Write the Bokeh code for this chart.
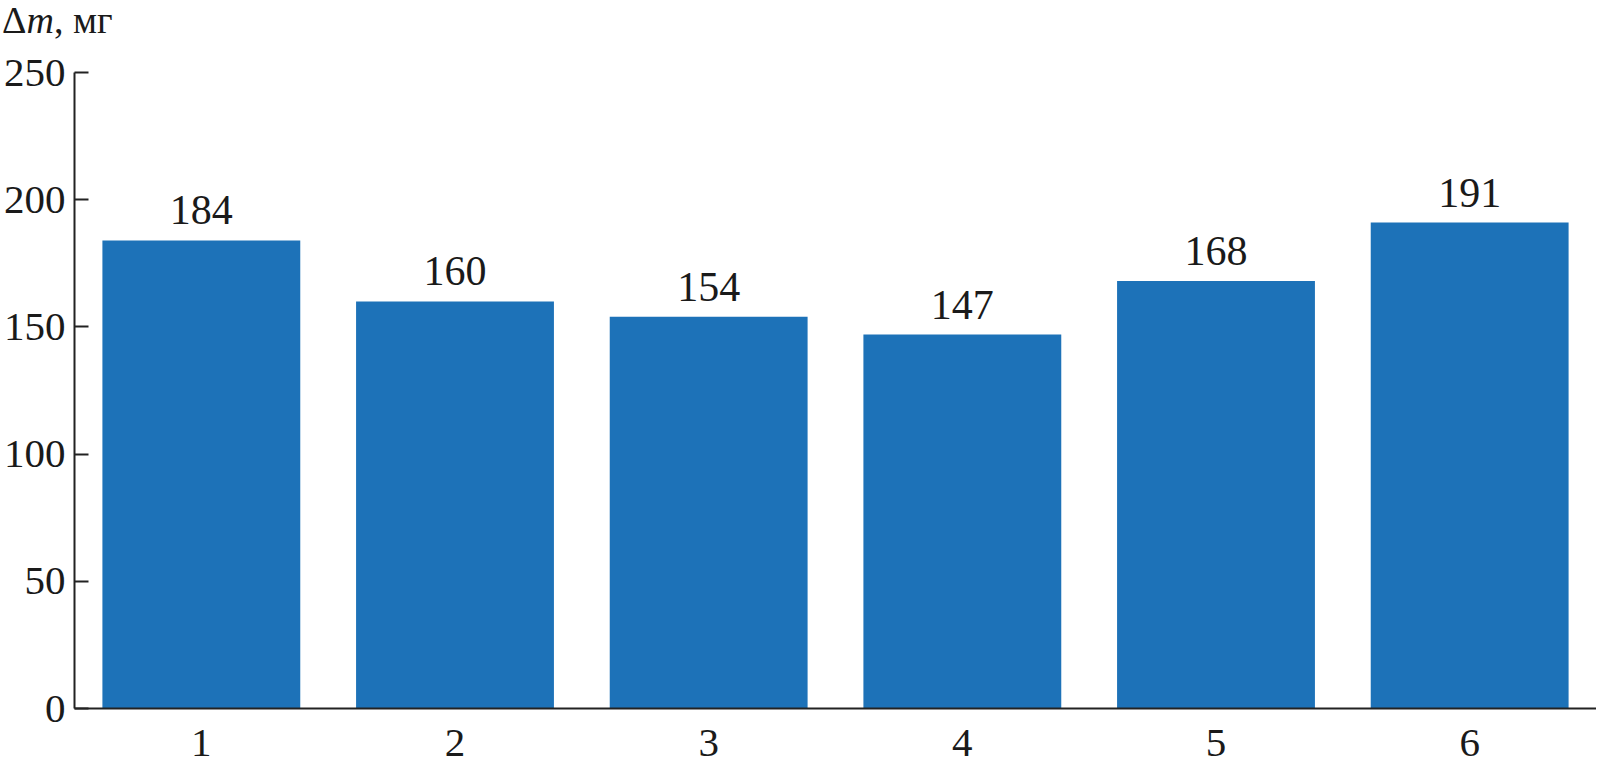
from bokeh.plotting import figure
from bokeh.layouts import column
from bokeh.models import ColumnDataSource, FixedTicker, Range1d, LabelSet, Div
from bokeh.embed import file_html
from bokeh.resources import INLINE

categories = [1, 2, 3, 4, 5, 6]
values = [184, 160, 154, 147, 168, 191]
y_ticks = [0, 50, 100, 150, 200, 250]
y_title_symbol = "Δ"
y_title_var = "m"
y_title_unit = ", мг"

FONT = "Liberation Serif"
BAR = "#1d72b8"
INK = "#1a1a1a"

# --- header carrying the y-axis title "Δm, мг" ---
head = Div(
    text=f'<span>{y_title_symbol}<i>{y_title_var}</i>{y_title_unit}</span>',
    width=1596, height=40, margin=(0, 0, 0, 0),
    styles={"font-family": FONT, "font-size": "38px", "line-height": "40px",
            "color": INK, "padding-left": "2px", "white-space": "nowrap"},
)

# --- main bar chart ---
src = ColumnDataSource(dict(x=categories, top=values, lbl=[str(v) for v in values]))

p = figure(width=1596, height=720, output_backend="svg", toolbar_location=None,
           x_range=Range1d(0.5, 6.5), y_range=Range1d(0, 250),
           min_border_left=60, min_border_right=0, min_border_top=32, min_border_bottom=52,
           margin=(0, 0, 0, 0))
p.outline_line_color = None
p.xgrid.visible = False
p.ygrid.visible = False
p.background_fill_color = "white"
p.border_fill_color = "white"

p.vbar(x="x", top="top", width=0.78, bottom=0, source=src, fill_color=BAR, line_color=None)
p.add_layout(LabelSet(x="x", y="top", text="lbl", source=src, text_align="center",
                      text_baseline="alphabetic", y_offset=16, text_font=FONT,
                      text_font_size="42px", text_color=INK))

for ax in (p.xaxis[0], p.yaxis[0]):
    ax.axis_line_color = "#222222"
    ax.axis_line_width = 2
    ax.major_label_text_font = FONT
    ax.major_label_text_font_size = "41px"
    ax.major_label_text_color = INK
    ax.minor_tick_line_color = None
    ax.major_tick_line_color = "#222222"
    ax.major_tick_line_width = 2

p.yaxis.ticker = FixedTicker(ticks=y_ticks)
p.yaxis.major_tick_in = 14
p.yaxis.major_tick_out = 0
p.yaxis.major_label_standoff = 9

p.xaxis.ticker = FixedTicker(ticks=categories)
p.xaxis.major_tick_in = 0
p.xaxis.major_tick_out = 0
p.xaxis.major_label_standoff = 21

layout = column(head, p, spacing=0)
open("out.html", "w").write(file_html(layout, INLINE))
